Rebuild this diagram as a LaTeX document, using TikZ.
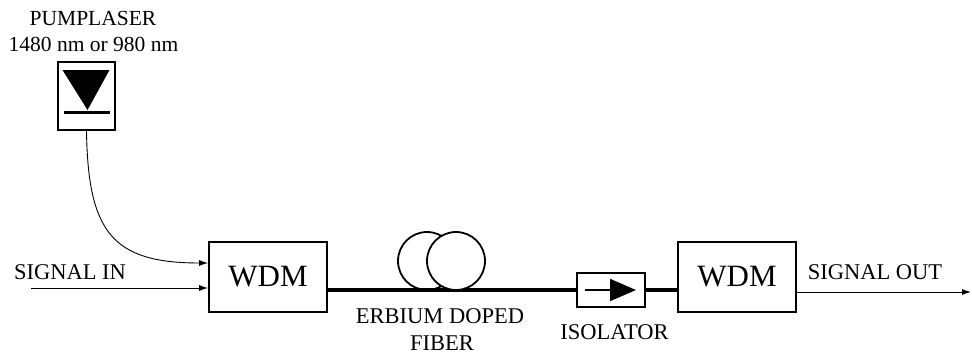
\documentclass[tikz,border=0pt]{standalone}
\usepackage{fontspec}
\setmainfont{Liberation Serif}
\usetikzlibrary{arrows.meta}
\begin{document}
\begin{tikzpicture}[x=1pt,y=-1pt,
  box/.style={draw,line width=1.8pt,minimum width=118pt,minimum height=70pt,inner sep=0pt,font=\fontsize{31}{31}\selectfont},
  lbl/.style={inner sep=0pt,font=\fontsize{22.5}{24}\selectfont},
  sig/.style={line width=0.9pt,-{Latex[length=9pt,width=6pt]}}]
  \useasboundingbox (0,0) rectangle (972,356);
  % pump laser
  \node[lbl,font=\fontsize{21.5}{23}\selectfont] (pumpname) at (93,18) {PUMPLASER};
  \node[lbl,font=\fontsize{21.5}{23}\selectfont] (pumpwave) at (93.5,44.5) {1480 nm or 980 nm};
  \node[draw,line width=1.6pt,minimum width=57pt,minimum height=68pt,inner sep=0pt] (pump) at (86.5,96) {};
  \begin{scope}[shift={(pump.center)}]
    \fill (-24,-26) -- (23,-26) -- (1,14) -- cycle;
    \draw[line width=3pt] (-23,16) -- (23,16);
  \end{scope}
  % blocks
  \node[box] (wdmA) at (268,277) {WDM};
  \node[box] (wdmB) at (737,277) {WDM};
  \node[draw,line width=1.6pt,minimum width=68pt,minimum height=34pt,inner sep=0pt] (iso) at (611,290) {};
  \begin{scope}[shift={(iso.center)}]
    \draw[line width=1.8pt,-{Triangle[length=26pt,width=22pt]}] (-26,0) -- (25,0);
  \end{scope}
  % fiber
  \draw[line width=3.5pt] ([yshift=-13pt]wdmA.east) -- (iso.west);
  \draw[line width=3.5pt] (iso.east) -- ([yshift=-13pt]wdmB.west);
  \node[circle,draw,line width=1.8pt,minimum size=58pt,inner sep=0pt] (coilA) at (427,261) {};
  \node[circle,draw,fill=white,line width=1.8pt,minimum size=58pt,inner sep=0pt] (coilB) at (456,261) {};
  % signals
  \coordinate (in) at (31,288);
  \coordinate (out) at (971,292);
  \draw[sig] (pump.south) .. controls (88,232) and (112,263) .. ([yshift=14pt]wdmA.west);
  \draw[sig] (in) -- ([yshift=-11pt]wdmA.west);
  \draw[sig] ([yshift=-15pt]wdmB.east) -- (out);
  % labels
  \node[lbl] (sigin) at (70,272) {SIGNAL IN};
  \node[lbl] (sigout) at (875,272.5) {SIGNAL OUT};
  \node[lbl] (edfa) at (440,316) {ERBIUM DOPED};
  \node[lbl] (fiber) at (442,343) {FIBER};
  \node[lbl] (isoname) at (614.5,332) {ISOLATOR};
\end{tikzpicture}
\end{document}
